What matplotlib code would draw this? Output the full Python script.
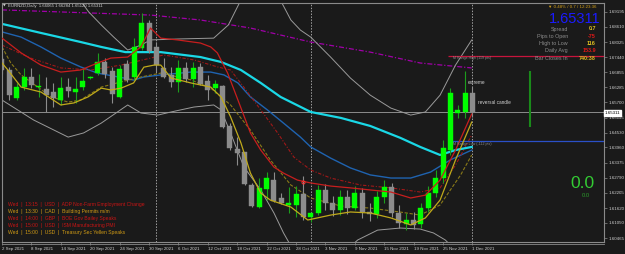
import matplotlib
matplotlib.use("Agg")
import matplotlib.pyplot as plt
from matplotlib.patches import Rectangle

plt.rcParams['font.family'] = ['Liberation Sans', 'DejaVu Sans']

# EURNZD daily bars, 2 Sep 2021 .. 1 Dec 2021 (bar index 0..64)
opens = [1.6738, 1.6695, 1.6587, 1.6629, 1.6668, 1.6631, 1.6622, 1.6610, 1.6579, 1.6629,
         1.6610, 1.6629, 1.6666, 1.6683, 1.6726, 1.6691, 1.6591, 1.6718, 1.6668, 1.6780,
         1.6876, 1.6784, 1.6703, 1.6676, 1.6649, 1.6703, 1.6660, 1.6707, 1.6652, 1.6625,
         1.6633, 1.6479, 1.6390, 1.6378, 1.6251, 1.6166, 1.6235, 1.6270, 1.6201, 1.6174,
         1.6174, 1.6216, 1.6127, 1.6143, 1.6232, 1.6181, 1.6154, 1.6205, 1.6162, 1.6220,
         1.6147, 1.6139, 1.6205, 1.6243, 1.6143, 1.6100, 1.6116, 1.6100, 1.6162, 1.6220,
         1.6278, 1.6386, 1.6529, 1.6533, 1.66065]
highs = [1.6749, 1.6706, 1.6645, 1.6703, 1.6703, 1.6680, 1.6668, 1.6645, 1.6668, 1.6664,
         1.6668, 1.6703, 1.6672, 1.6760, 1.6741, 1.6706, 1.6714, 1.6734, 1.6818, 1.6915,
         1.6888, 1.6803, 1.6741, 1.6707, 1.6734, 1.6726, 1.6726, 1.6722, 1.6676, 1.6656,
         1.6637, 1.6490, 1.6436, 1.6378, 1.6259, 1.6278, 1.6301, 1.6301, 1.6220, 1.6243,
         1.6247, 1.6286, 1.6147, 1.6251, 1.6255, 1.6209, 1.6232, 1.6232, 1.6247, 1.6240,
         1.6182, 1.6228, 1.6270, 1.6259, 1.6174, 1.6143, 1.6147, 1.6182, 1.6247, 1.6309,
         1.6425, 1.6625, 1.6560, 1.6691, 1.66284]
lows = [1.6680, 1.6579, 1.6579, 1.6618, 1.6625, 1.6591, 1.6533, 1.6552, 1.6560, 1.6591,
        1.6568, 1.6618, 1.6660, 1.6676, 1.6664, 1.6568, 1.6587, 1.6649, 1.6657, 1.6772,
        1.6760, 1.6687, 1.6664, 1.6629, 1.6610, 1.6649, 1.6629, 1.6637, 1.6579, 1.6606,
        1.6471, 1.6386, 1.6328, 1.6251, 1.6166, 1.6162, 1.6193, 1.6186, 1.6178, 1.6143,
        1.6128, 1.6116, 1.6108, 1.6135, 1.6154, 1.6131, 1.6135, 1.6139, 1.6154, 1.6124,
        1.6112, 1.6124, 1.6182, 1.6127, 1.6085, 1.6077, 1.6081, 1.6085, 1.6147, 1.6205,
        1.6259, 1.6367, 1.6510, 1.6510, 1.65120]
closes = [1.6695, 1.6599, 1.6629, 1.6668, 1.6637, 1.6633, 1.6599, 1.6587, 1.6625, 1.6614,
          1.6622, 1.6652, 1.6668, 1.6726, 1.6680, 1.6602, 1.6699, 1.6656, 1.6784, 1.6876,
          1.6768, 1.6714, 1.6668, 1.6649, 1.6703, 1.6660, 1.6703, 1.6641, 1.6618, 1.6641,
          1.6475, 1.6394, 1.6374, 1.6255, 1.6170, 1.6239, 1.6278, 1.6189, 1.6181, 1.6181,
          1.6216, 1.6127, 1.6143, 1.6232, 1.6181, 1.6154, 1.6205, 1.6162, 1.6220, 1.6147,
          1.6139, 1.6205, 1.6243, 1.6143, 1.6104, 1.6116, 1.6096, 1.6162, 1.6220, 1.6278,
          1.6394, 1.6606, 1.6541, 1.66065, 1.65311]

date_idx = [0, 4, 8, 12, 16, 20, 24, 28, 32, 36, 40, 44, 48, 52, 56, 60, 64]
date_labels = ['2 Sep 2021', '8 Sep 2021', '14 Sep 2021', '20 Sep 2021', '24 Sep 2021',
               '30 Sep 2021', '6 Oct 2021', '12 Oct 2021', '18 Oct 2021', '22 Oct 2021',
               '28 Oct 2021', '3 Nov 2021', '9 Nov 2021', '15 Nov 2021', '19 Nov 2021',
               '25 Nov 2021', '1 Dec 2021']
month_starts = [21, 42, 64]
price_ticks = [1.60465, 1.61050, 1.61620, 1.62205, 1.62790, 1.63375, 1.63960, 1.64530,
               1.65115, 1.65700, 1.66285, 1.66855, 1.67440, 1.68025, 1.68610, 1.69195]
last_price = 1.65311

# indicator lines (bar index, price)
cyan_x = [0, 5.3, 10.7, 13.5, 16.8, 21.6, 27.0, 29.8, 32.5, 35.2, 37.9, 42.0, 46.1, 50.1, 54.2, 56.9, 59.6, 61.7, 63.9]
cyan_y = [1.6873, 1.6838, 1.6803, 1.6784, 1.6764, 1.6764, 1.6745, 1.6726, 1.6695, 1.6645, 1.6591, 1.6533, 1.6510,
          1.6479, 1.6433, 1.6398, 1.6367, 1.6386, 1.6398]
blue_x = [0, 2.6, 5.3, 8.0, 10.7, 13.0, 16.6, 17.9, 19.3, 21.6, 25.7, 28.4, 30.2, 32.1, 33.8, 36.1, 38.3, 40.6, 42.0,
          44.7, 47.4, 50.1, 52.9, 55.6, 58.3, 61.0, 63.9]
blue_y = [1.6842, 1.6822, 1.6784, 1.6741, 1.6707, 1.6683, 1.6664, 1.6656, 1.6668, 1.6676, 1.6687, 1.6687, 1.6676,
          1.6645, 1.6591, 1.6541, 1.6490, 1.6436, 1.6398, 1.6355, 1.6317, 1.6290, 1.6278, 1.6278, 1.6301, 1.6348, 1.6386]
red_x = [0, 2.6, 5.3, 8.0, 10.7, 13.0, 14.8, 17.1, 18.9, 20.2, 21.6, 23.9, 27.0, 28.4, 29.3, 30.7, 32.1, 33.8, 35.2,
         37.0, 38.3, 40.2, 42.0, 44.7, 47.4, 50.1, 52.9, 55.6, 57.6, 59.6, 61.7, 63.9]
red_y = [1.6818, 1.6761, 1.6714, 1.6687, 1.6695, 1.6722, 1.6741, 1.6745, 1.6784, 1.6857, 1.6818, 1.6811, 1.6799,
         1.6784, 1.6761, 1.6683, 1.6579, 1.6452, 1.6386, 1.6320, 1.6297, 1.6270, 1.6259, 1.6247, 1.6240, 1.6232,
         1.6224, 1.6201, 1.6212, 1.6270, 1.6386, 1.6525]
dred_x = [0, 3.9, 8.0, 12.1, 16.2, 22.0, 26.1, 29.3, 31.1, 32.9, 35.2, 37.5, 39.7, 42.0, 44.7, 48.8, 52.9, 56.9,
          59.6, 61.7, 63.9]
dred_y = [1.6791, 1.6741, 1.6703, 1.6695, 1.6714, 1.6753, 1.6734, 1.6707, 1.6695, 1.6629, 1.6541, 1.6452, 1.6359,
          1.6309, 1.6278, 1.6251, 1.6240, 1.6224, 1.6240, 1.6328, 1.6444]
yel_x = [0, 0.8, 2.6, 5.3, 8.0, 9.8, 11.7, 13.5, 14.8, 16.2, 17.9, 19.3, 20.7, 21.6, 23.0, 25.7, 28.4, 29.8, 31.1,
         32.5, 33.8, 35.2, 36.5, 39.3, 41.6, 44.7, 47.4, 50.1, 52.9, 55.6, 57.6, 59.6, 61.7, 63.9]
yel_y = [1.6722, 1.6695, 1.6629, 1.6610, 1.6560, 1.6568, 1.6591, 1.6625, 1.6618, 1.6625, 1.6645, 1.6706, 1.6714,
         1.6714, 1.6664, 1.6645, 1.6629, 1.6591, 1.6514, 1.6414, 1.6297, 1.6220, 1.6193, 1.6166, 1.6116, 1.6135,
         1.6147, 1.6143, 1.6124, 1.6097, 1.6124, 1.6193, 1.6348, 1.6494]
dyel_x = [0, 1.2, 2.6, 6.7, 9.0, 10.7, 13.5, 16.2, 18.9, 21.6, 25.7, 28.4, 31.1, 33.8, 36.5, 39.3, 42.0, 46.1,
          50.1, 54.1, 56.9, 59.6, 62.4, 63.9]
dyel_y = [1.6784, 1.6722, 1.6676, 1.6591, 1.6571, 1.6579, 1.6629, 1.6649, 1.6668, 1.6683, 1.6657, 1.6625, 1.6560,
          1.6463, 1.6348, 1.6251, 1.6201, 1.6170, 1.6162, 1.6147, 1.6135, 1.6174, 1.6290, 1.6367]
bbu_x = [0, 5.3, 10.1, 11.8, 13.5, 15.2, 17.1, 18.9, 20.2, 24.3, 28.8, 30.8, 32.5, 34.5, 37.5, 39.3, 40.6, 42.0,
         44.7, 47.4, 50.1, 52.9, 55.6, 57.6, 59.6, 61.7, 63.9]
bbu_y = [1.7004, 1.7023, 1.6985, 1.6919, 1.6869, 1.6822, 1.6772, 1.6791, 1.6811, 1.6815, 1.6818, 1.6869, 1.6965,
         1.7023, 1.6985, 1.6888, 1.6849, 1.6822, 1.6745, 1.6664, 1.6598, 1.6548, 1.6521, 1.6533, 1.6598, 1.6714, 1.6811]
bbl_x = [0, 4.3, 9.0, 11.1, 13.5, 17.1, 18.9, 21.2, 23.0, 26.1, 28.8, 29.8, 31.1, 32.9, 35.2, 37.0, 38.3, 40.0,
         43.3, 46.1, 48.4, 51.1, 54.2, 56.9, 58.7, 60.3, 62.4, 63.9]
bbl_y = [1.6579, 1.6502, 1.6436, 1.6452, 1.6490, 1.6560, 1.6529, 1.6521, 1.6533, 1.6552, 1.6560, 1.6541, 1.6452,
         1.6321, 1.6232, 1.6143, 1.6066, 1.5981, 1.5942, 1.5981, 1.6039, 1.6077, 1.6085, 1.6081, 1.6066, 1.6039,
         1.5981, 1.5942]
pur_x = [0, 12.1, 20.2, 27.0, 33.8, 42.0, 50.1, 56.9, 63.9]
pur_y = [1.6927, 1.6915, 1.6907, 1.6888, 1.6857, 1.6803, 1.6764, 1.6722, 1.6703]

range_high = 1.6750
range_low = 1.6421
range_start = 60.7
day_bar_x = 71.9
day_bar = (1.6475, 1.6691)

news = [('Wed  |  13:15  |  USD  |  ADP Non-Farm Employment Change', '#c81414'),
        ('Wed  |  13:30  |  CAD  |  Building Permits m/m', '#d09a14'),
        ('Wed  |  14:00  |  GBP  |  BOE Gov Bailey Speaks', '#c81414'),
        ('Wed  |  15:00  |  USD  |  ISM Manufacturing PMI', '#c81414'),
        ('Wed  |  15:00  |  USD  |  Treasury Sec Yellen Speaks', '#d09a14')]
info_labels = ['Spread', 'Pips to Open', 'High to Low', 'Daily Avg', 'Bar Closes In']
info_values = ['0.7', '-75', '116', '153.9', '740:38']
info_colors = ['#e0c020', '#e01818', '#e0c020', '#e01818', '#e0c020']

bg = '#1a1a1a'
fig = plt.figure(figsize=(6.25, 2.54), dpi=100, facecolor=bg)
ax = fig.add_axes([2 / 625, 1 - 242 / 254, 602 / 625, 239 / 254], facecolor=bg)
ax.set_xlim(0.14, 81.9)
ax.set_ylim(1.60311, 1.69536)

# indicators
ax.plot(pur_x, pur_y, color='#a000a8', lw=0.9, dashes=(4, 1.5, 1, 1.5), zorder=2)
ax.plot(bbu_x, bbu_y, color='#9a9a9a', lw=0.7, zorder=2)
ax.plot(bbl_x, bbl_y, color='#9a9a9a', lw=0.7, zorder=2)
ax.plot(blue_x, blue_y, color='#1f63b0', lw=1.0, zorder=2)
ax.plot(dyel_x, dyel_y, color='#8a7a18', lw=0.8, dashes=(3, 1.5), zorder=2)
ax.plot(dred_x, dred_y, color='#a01818', lw=0.8, dashes=(3, 1.5, 1, 1.5), zorder=2)
ax.plot(cyan_x, cyan_y, color='#1ad8e6', lw=1.6, zorder=2)

# candles
for i, (o, h, l, c) in enumerate(zip(opens, highs, lows, closes)):
    up = c >= o
    body = '#00ff00' if up else '#8c8c8c'
    wick = '#1c9e1c' if up else '#8c8c8c'
    ax.vlines(i, l, h, color=wick, lw=0.8, zorder=3)
    bot = min(o, c)
    hgt = max(abs(c - o), 0.00018)
    ax.add_patch(Rectangle((i - 0.34, bot), 0.68, hgt, facecolor=body, edgecolor=body, lw=0.3, zorder=4))

ax.plot(red_x, red_y, color='#c81e1e', lw=0.9, zorder=5)
ax.plot(yel_x, yel_y, color='#c0aa1a', lw=0.9, zorder=5)
ax.plot([40.9], [1.6263], marker='o', ms=2.2, mfc='none', mec='#ff3030', mew=0.7, zorder=6)

# levels and separators
ax.axhline(last_price, color='#8c8c8c', lw=0.7, zorder=1)
ax.hlines(range_high, range_start, 82, color='#c8143c', lw=0.9, zorder=2)
ax.hlines(range_low, range_start, 82, color='#2a50c8', lw=0.9, zorder=2)
for m in month_starts:
    ax.axvline(m, color='#a0a0a0', lw=0.7, ls=(0, (1.5, 1.5)), zorder=1)
ax.vlines(day_bar_x, day_bar[0], day_bar[1], color='#1a8a1a', lw=1.5, zorder=2)

# axes styling
for s in ax.spines.values():
    s.set_color('#8a8a8a')
    s.set_linewidth(0.8)
ax.yaxis.tick_right()
ax.set_yticks(price_ticks, [f'{p:.5f}' for p in price_ticks])
ax.set_xticks(date_idx, date_labels, ha='left')
ax.tick_params(axis='y', colors='#8a8a8a', labelcolor='#d0d0d0', labelsize=3.2, length=2, width=0.5, pad=1.5)
ax.tick_params(axis='x', colors='#8a8a8a', labelcolor='#d0d0d0', labelsize=3.2, length=2, width=0.5, pad=1.5)

def fp(x, y):
    return x / 625, 1 - y / 254

# bottom double line
fig.add_artist(plt.Line2D([2 / 625, 604 / 625], [1 - 244 / 254] * 2, color='#8a8a8a', lw=0.6))

# header
fig.text(*fp(3, 5.5), '\u25bc', color='#d0d0d0', fontsize=2.5, va='center', family='DejaVu Sans')
fig.text(*fp(8, 5.5), 'EURNZD,Daily  1.66065 1.66284 1.65120 1.65311', color='#d0d0d0', fontsize=3.1, va='center')

# info panel
fig.text(*fp(597, 7), '\u25bc 0.48% / 0.7 / 12:23:36', color='#d4a017', fontsize=3.2, ha='right', va='center',
         family=['Liberation Sans', 'DejaVu Sans'])
fig.text(*fp(600, 19), f'{last_price:.5f}', color='#1a1aff', fontsize=10.5, ha='right', va='center')
for k, (lab, val, col) in enumerate(zip(info_labels, info_values, info_colors)):
    y = 29 + k * 7.3
    fig.text(*fp(568, y), lab, color='#8c8c8c', fontsize=3.9, ha='right', va='center')
    fig.text(*fp(596, y), val, color=col, fontsize=3.9, ha='right', va='center', weight='bold')

# price tag on axis
fig.text(*fp(605, 113), f'{last_price:.5f}', color='black', fontsize=3.2, ha='left', va='center',
         bbox=dict(boxstyle='square,pad=0.15', fc='white', ec='white'))

# news list
for k, (txt, col) in enumerate(news):
    fig.text(*fp(8, 204.5 + k * 7), txt, color=col, fontsize=3.6, ha='left', va='center')

# annotations
fig.text(*fp(468, 83), 'extreme', color='#d0d0d0', fontsize=3.4, va='center')
fig.text(*fp(478, 102), 'reversal candle', color='#d0d0d0', fontsize=3.4, va='center')
fig.text(*fp(453, 58), 'M Range High (119 pts)', color='#8c8c8c', fontsize=2.6, va='center')
fig.text(*fp(453, 144), 'M Range Low (-112 pts)', color='#8c8c8c', fontsize=2.6, va='center')

fig.text(*fp(582, 183), '0.0', color='#33cc33', fontsize=12.5, ha='center', va='center')
fig.text(*fp(586, 195.5), '0.0', color='#2a9a2a', fontsize=4.2, ha='center', va='center')

fig.savefig('out.png', dpi=100, facecolor=bg)
